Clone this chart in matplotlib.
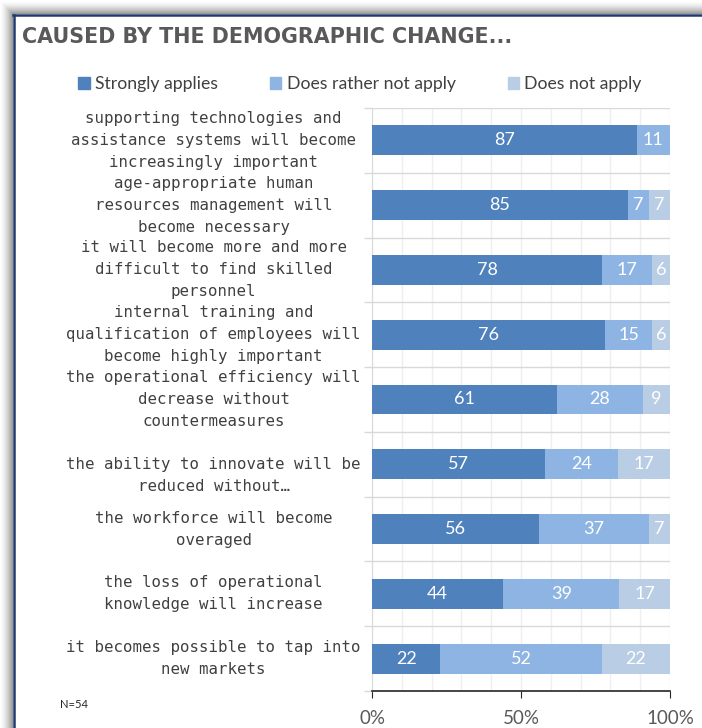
import numpy as np
import matplotlib
matplotlib.use("Agg")
import matplotlib.pyplot as plt
from matplotlib.lines import Line2D
from matplotlib.patches import Rectangle

# ---- data ----
categories = [
    "supporting technologies and\nassistance systems will become\nincreasingly important",
    "age-appropriate human\nresources management will\nbecome necessary",
    "it will become more and more\ndifficult to find skilled\npersonnel",
    "internal training and\nqualification of employees will\nbecome highly important",
    "the operational efficiency will\ndecrease without\ncountermeasures",
    "the ability to innovate will be\nreduced without\u2026",
    "the workforce will become\noveraged",
    "the loss of operational\nknowledge will increase",
    "it becomes possible to tap into\nnew markets",
]
series_names = ["Strongly applies", "Does rather not apply", "Does not apply"]
strongly = [87, 85, 78, 76, 61, 57, 56, 44, 22]
rather_not = [11, 7, 17, 15, 28, 24, 37, 39, 52]
not_apply = [0, 7, 6, 6, 9, 17, 7, 17, 22]
colors = ["#4F81BD", "#8EB4E3", "#B9CDE5"]
title = "CAUSED BY THE DEMOGRAPHIC CHANGE..."
note = "N=54"
xticks = [0, 0.5, 1.0]
xticklabels = ["0%", "50%", "100%"]

W, H = 702, 728
fig = plt.figure(figsize=(W / 100, H / 100), dpi=100)

# ---- background shadow + frame ----
bg = fig.add_axes([0, 0, 1, 1], zorder=-10)
bg.set_xlim(0, W)
bg.set_ylim(H, 0)
bg.axis("off")
xx, yy = np.meshgrid(np.arange(W) + 0.5, np.arange(H) + 0.5)
fx, fy = 13.0, 14.0
dx = np.clip(fx - xx, 0, None)
dy = np.clip(fy - yy, 0, None)
inside = (xx >= fx) & (yy >= fy)
d = np.maximum(dx, dy)
shade = 1 - 0.42 * np.clip(1 - d / 13.0, 0, 1) ** 1.6
shade[inside] = 1.0
img = np.dstack([shade, shade, shade])
bg.imshow(img, extent=(0, W, H, 0), aspect="auto", interpolation="bilinear")
bg.add_line(Line2D([13, W], [15, 15], color="#1F3A6E", lw=1.8))
bg.add_line(Line2D([14, 14], [15, H], color="#1F3A6E", lw=1.8))

# ---- main axes ----
L, R, T, B = 372, 670, 108, 691
ax = fig.add_axes([L / W, 1 - B / H, (R - L) / W, (B - T) / H])

data = np.array([strongly, rather_not, not_apply], dtype=float)
totals = data.sum(axis=0)
frac = data / totals
y = np.arange(len(categories))
left = np.zeros(len(categories))
for i in range(3):
    bars = ax.barh(y, frac[i], left=left, height=0.46, color=colors[i],
                   label=series_names[i], zorder=3)
    for j, b in enumerate(bars):
        v = data[i, j]
        if v > 0:
            ax.text(left[j] + frac[i, j] / 2, y[j], f"{int(v)}", ha="center",
                    va="center", color="white", fontsize=13,
                    family="Lato", zorder=4)
    left += frac[i]

# truncated label is laid out as a 3-line box in the source (top line empty)
display_labels = [("\n" + c) if c.endswith("\u2026") else c for c in categories]

ax.set_xlim(0, 1)
ax.set_ylim(len(categories) - 0.5, -0.5)
ax.set_yticks(y)
ax.set_yticklabels(display_labels, fontsize=11.3, color="#404040",
                   family="DejaVu Sans Mono", linespacing=1.58, ha="center",
                   va="center")
ax.tick_params(axis="y", length=0, pad=114)
ax.set_yticks(np.arange(-0.5, len(categories), 1), minor=True)
ax.tick_params(axis="y", which="minor", length=6, color="#D9D9D9", width=1)
ax.grid(axis="y", which="minor", color="#D9D9D9", lw=1, zorder=0)

ax.set_xticks(xticks)
ax.set_xticklabels(xticklabels, fontsize=13.5, color="#595959", family="Lato")
ax.set_xticks(np.arange(0, 1.01, 0.1), minor=True)
ax.tick_params(axis="x", which="major", length=5, color="#262626", pad=9)
ax.tick_params(axis="x", which="minor", length=0)
ax.grid(axis="x", which="both", color="#EFEFEF", lw=1, zorder=0)
ax.spines["top"].set_visible(False)
ax.spines["right"].set_visible(False)
ax.spines["left"].set_color("#D9D9D9")
ax.spines["bottom"].set_color("#262626")
ax.spines["bottom"].set_linewidth(1.2)

# title, legend, note
fig.text(22 / W, 1 - 37 / H, title, fontsize=14.85, fontweight="bold",
         color="#595959", family="DejaVu Sans", va="center", ha="left")
handles = [Rectangle((0, 0), 1, 1, color=c) for c in colors]
leg = fig.legend(handles, series_names, loc="center", ncol=3,
                 bbox_to_anchor=(360 / W, 1 - 84 / H), frameon=False,
                 prop={"family": "Lato", "size": 12.7}, handlelength=0.65,
                 handleheight=0.65, handletextpad=0.3, columnspacing=2.95,
                 labelcolor="#404040")
fig.text(60 / W, 1 - 705 / H, note, fontsize=8, color="#262626",
         family="Lato", va="center")

fig.savefig("out.png", dpi=100)
